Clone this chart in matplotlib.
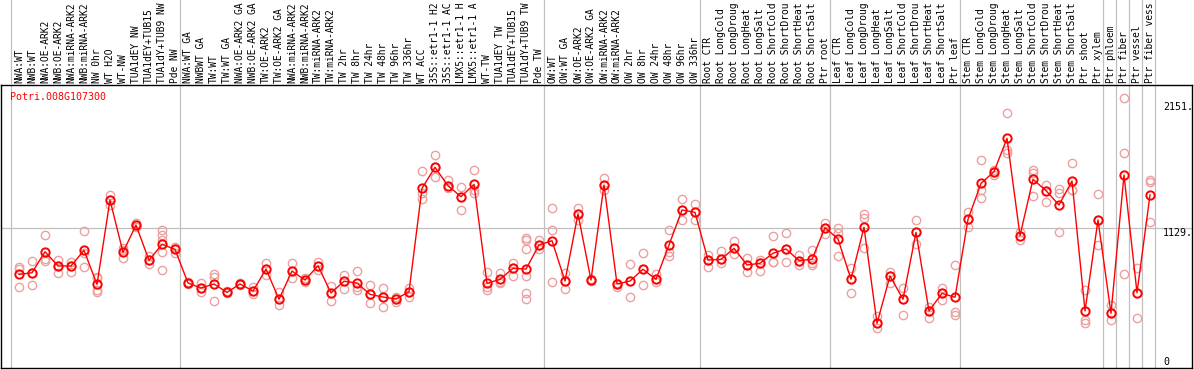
import matplotlib
matplotlib.use('Agg')
import matplotlib.pyplot as plt

gene = 'Potri.008G107300'

# sample names as far as the reference header shows them
samples = ['NWA:WT', 'NWB:WT', 'NWA:OE-ARK2', 'NWB:OE-ARK2', 'NWA:miRNA-ARK2', 'NWB:miRNA-ARK2',
           'NW 0hr', 'WT H2O', 'WT-NW', 'TUA1dEY NW', 'TUA1dEY+TUB15', 'TUA1dY+TUB9 NW', 'Pde NW',
           'NWA:WT GA', 'NWBWT GA', 'TW:WT', 'TW:WT GA', 'NWA:OE-ARK2 GA', 'NWB:OE-ARK2 GA',
           'TW:OE-ARK2', 'TW:OE-ARK2 GA', 'NWA:miRNA-ARK2', 'NWB:miRNA-ARK2', 'TW:miRNA-ARK2',
           'TW:miRNA-ARK2', 'TW 2hr', 'TW 8hr', 'TW 24hr', 'TW 48hr', 'TW 96hr', 'TW 336hr', 'WT ACC',
           '35S::etr1-1 H2', '35S::etr1-1 AC', 'LMX5::etr1-1 H', 'LMX5::etr1-1 A', 'WT-TW',
           'TUA1dEY TW', 'TUA1dEY+TUB15', 'TUA1dY+TUB9 TW', 'Pde TW',
           'OW:WT', 'OW:WT GA', 'OW:OE-ARK2', 'OW:OE-ARK2 GA', 'OW:miRNA-ARK2', 'OW:miRNA-ARK2',
           'OW 2hr', 'OW 8hr', 'OW 24hr', 'OW 48hr', 'OW 96hr', 'OW 336hr',
           'Root CTR', 'Root LongCold', 'Root LongDroug', 'Root LongHeat', 'Root LongSalt',
           'Root ShortCold', 'Root ShortDrou', 'Root ShortHeat', 'Root ShortSalt', 'Ptr root',
           'Leaf CTR', 'Leaf LongCold', 'Leaf LongDroug', 'Leaf LongHeat', 'Leaf LongSalt',
           'Leaf ShortCold', 'Leaf ShortDrou', 'Leaf ShortHeat', 'Leaf ShortSalt', 'Ptr leaf',
           'Stem CTR', 'Stem LongCold', 'Stem LongDroug', 'Stem LongHeat', 'Stem LongSalt',
           'Stem ShortCold', 'Stem ShortDrou', 'Stem ShortHeat', 'Stem ShortSalt',
           'Ptr shoot', 'Ptr xylem', 'Ptr phloem', 'Ptr fiber', 'Ptr vessel', 'Ptr fiber vess']

means = [753, 766, 937, 821, 821, 948, 672, 1356, 932, 1153, 867, 997, 956,
         683, 642, 675, 607, 675, 618, 796, 551, 780, 707, 823, 602, 697, 683, 591, 569, 553, 612,
         1451, 1621, 1472, 1383, 1483, 680, 713, 802, 796, 991,
         1026, 699, 1243, 707, 1478, 675, 699, 794, 713, 991, 1275, 1256,
         869, 875, 964, 829, 843, 924, 959, 864, 875, 1132,
         1040, 713, 1135, 356, 740, 551, 1094, 456, 599, 567,
         1199, 1491, 1586, 1856, 1067, 1524, 1432, 1316, 1510,
         456, 1194, 437, 1559, 604, 1397]

reps = [[815, 794, 651], [861, 766, 664], [1072, 875, 864], [869, 821, 762], [853, 821, 772],
        [1105, 925, 813], [734, 721, 626, 607], [1397, 1356, 1316], [964, 950, 883], [1172, 1153, 1140],
        [904, 867, 839], [1113, 1072, 1032, 937, 786], [977, 956, 929],
        [690, 683, 676], [680, 642, 607], [753, 734, 537], [615, 607, 600], [680, 675, 670],
        [653, 618, 594], [843, 796, 748], [612, 551, 505], [848, 780, 721], [721, 707, 694],
        [856, 823, 788], [659, 602, 537], [748, 697, 632], [780, 653, 626], [667, 591, 518],
        [640, 569, 491], [572, 553, 531], [640, 612, 572],
        [1591, 1410, 1362], [1721, 1621, 1546], [1518, 1472, 1451], [1459, 1383, 1275],
        [1599, 1437, 1410], [775, 653, 626], [767, 694, 680], [848, 802, 740],
        [1050, 1032, 959, 742, 599, 551], [1032, 991, 956],
        [1289, 1113, 688], [767, 699, 632], [1289, 1243, 1194], [715, 707, 699], [1532, 1478, 1437],
        [683, 675, 653], [837, 699, 572], [924, 794, 667], [753, 713, 694], [1113, 937, 902],
        [1362, 1275, 1194], [1324, 1256, 1194],
        [910, 869, 815], [942, 875, 843], [1024, 964, 916], [883, 829, 775], [869, 843, 783],
        [1064, 856, 851], [1086, 959, 851], [910, 864, 829], [951, 843, 831], [1167, 1132, 1078],
        [1132, 1086, 902], [802, 713, 604], [1243, 1208, 964], [415, 356, 315], [775, 740, 686],
        [640, 551, 423], [1194, 1094, 999], [491, 456, 397], [640, 599, 545], [829, 450, 423],
        [1256, 1199, 1140], [1681, 1437, 1370], [1599, 1586, 1559], [2059, 1762, 1740],
        [1099, 1067, 1032], [1599, 1573, 1389], [1478, 1432, 1342], [1443, 1410, 1094],
        [1654, 1437, 1437],
        [626, 383, 361], [1402, 1194, 991], [504, 437, 383], [2181, 1735, 756], [802, 604, 397],
        [1518, 1505, 1180]]

# first sample of each block (vertical separators drawn just before them)
group_starts = [0, 13, 41, 53, 63, 73, 84, 85, 86, 87, 88]
ref_value = 1129
ytick_vals = [2151, 1129, 0]
ytick_text = ['2151.', '1129.', '0']

W, H = 1194, 370
mono = 'DejaVu Sans Mono'
fs = 7.2
grey = '#c0c0c0'
pink = '#eca0a0'

fig = plt.figure(figsize=(W / 100, H / 100), dpi=100)

# plot panel: pixels x 1..1192, y 85..368 ; sample k sits at x = 19 + 13k
ax = fig.add_axes([1 / W, 2 / H, 1191 / W, 283 / H])
ax.set_xlim((1 - 19) / 13, (1192 - 19) / 13)
ax.set_ylim(-6.5, 2289)
ax.set_xticks([])
ax.set_yticks([])
for s in ax.spines.values():
    s.set_color('black')
    s.set_linewidth(1.0)

for b in group_starts:
    ax.axvline(b - 0.6, color=grey, lw=0.9, zorder=1)
ax.axhline(ref_value, color=grey, lw=0.9, zorder=1)

for k, r in enumerate(reps):
    ax.plot([k] * len(r), r, ls='none', marker='o', ms=6, mfc='none', mec=pink, mew=1.0, zorder=2)

x = list(range(len(means)))
ax.plot(x, means, color='red', lw=1.0, zorder=3)
ax.plot(x, means, ls='none', marker='o', ms=6, mfc='none', mec='red', mew=1.4, zorder=4)

ax.text(9 / 1191, 1 - 12 / 283, gene, transform=ax.transAxes, color='red',
        family=mono, fontsize=fs, va='center', ha='left')

for v, t in zip(ytick_vals, ytick_text):
    ax.text(88.0, v, t, family=mono, fontsize=fs, color='black', ha='left',
            va='bottom' if v == 0 else 'top')

# sample labels above the panel
lab = fig.add_axes([0, 285 / H, 1, 85 / H])
lab.set_xlim(-19 / 13, (W - 19) / 13)
lab.set_ylim(0, 85)
lab.axis('off')
for b in group_starts:
    lab.axvline(b - 0.6, color=grey, lw=0.9)
for k, name in enumerate(samples):
    lab.text(k, 2, name, rotation=90, ha='center', va='bottom', family=mono,
             fontsize=6.9, color='black')

fig.savefig('out.png', dpi=100)
